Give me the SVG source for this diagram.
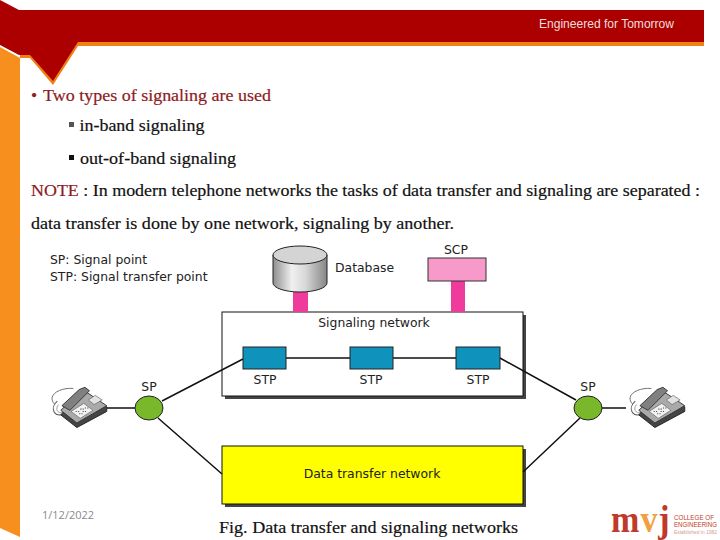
<svg xmlns="http://www.w3.org/2000/svg" width="720" height="540" viewBox="0 0 720 540">
<defs>
<linearGradient id="cyl" x1="0" x2="1" y1="0" y2="0"><stop offset="0" stop-color="#8e8e8e"/><stop offset="0.35" stop-color="#f0f0f0"/><stop offset="0.6" stop-color="#d8d8d8"/><stop offset="1" stop-color="#858585"/></linearGradient>
<g id="phone">
<path d="M-20 -3C-28 -11 -16 -18 -4 -17" fill="none" stroke="#666" stroke-width="0.8"/>
<path d="M-18 -6C-25 0 -21 9 -11 5" fill="#fff" stroke="#555" stroke-width="0.9"/>
<path d="M-17 -3C-20 1 -18 5 -13 4" fill="none" stroke="#888" stroke-width="0.7"/>
<path d="M-15 6L-1 17L25 3L25 -1L4 -15Z" fill="#444" stroke="#222" stroke-width="0.8"/>
<path d="M-15 2L-1 13L25 -2L4 -16Z" fill="#aaa" stroke="#333" stroke-width="0.8"/>
<path d="M-6 3L2 9L13 2L5 -4Z" fill="#f2f2f2" stroke="#555" stroke-width="0.5"/>
<path d="M-2 3H1M1 5H4M4 3H7M2 1H5M6 0H9" stroke="#555" stroke-width="1" stroke-dasharray="1 1"/>
<path d="M9 -7L14 -3L21 -7L15 -11Z" fill="#e2e2e2" stroke="#555" stroke-width="0.5"/>
<path d="M-14 -2L1 -16L6 -18L10 -15L-7 2Z" fill="#808080" stroke="#333" stroke-width="0.8"/>
</g>
</defs>
<style>
.s{font-family:"Liberation Serif",serif;font-size:17.5px;fill:#111;stroke:#111;stroke-width:0.2}
.r{fill:#8e1a22;stroke:#8e1a22}
.d{font-family:"DejaVu Sans",sans-serif;font-size:12.4px;fill:#222}
.c{text-anchor:middle}
.l{stroke:#111;stroke-width:1.5;fill:none}
.stp{fill:#0f93bd;stroke:#222;stroke-width:1}
.pk{fill:#ee3b9c}
.sp{fill:#78b82a;stroke:#222;stroke-width:1}
.t{font-family:"Liberation Sans",sans-serif;fill:#bf3a28}
.m{font-family:"Liberation Serif",serif;font-weight:bold;font-size:37px;fill:#bf3a28}
</style>
<rect width="720" height="540" fill="#fff"/>
<g id="header">
<path d="M0 47L20 58L20 537L0 528Z" fill="#f78f1e"/>
<path d="M20 58H30L53 85L78 46H704V41H78L53 80L30 54H20Z" fill="#f07f14"/>
<path d="M0 0L19 10H704V42H78L53 81L30 55H19L0 45Z" fill="#ac0000"/>
<text x="539" y="28" font-family="'Liberation Sans',sans-serif" font-size="12.5" fill="#f3dede" textLength="135" lengthAdjust="spacingAndGlyphs">Engineered for Tomorrow</text>
</g>
<g id="body-text">
<text class="s r" x="31" y="101">•</text>
<text class="s r" x="43" y="101" textLength="228" lengthAdjust="spacingAndGlyphs">Two types of signaling are used</text>
<rect x="69" y="122" width="5" height="5" fill="#555"/><text class="s" x="79.500" y="131" textLength="125" lengthAdjust="spacingAndGlyphs">in-band signaling</text>
<rect x="69" y="155" width="5" height="5" fill="#111"/><text class="s" x="80" y="164" textLength="156" lengthAdjust="spacingAndGlyphs">out-of-band signaling</text>
<text class="s" x="31" y="196" textLength="669" lengthAdjust="spacingAndGlyphs"><tspan class="r">NOTE</tspan> : In modern telephone networks the tasks of data transfer and signaling are separated :</text>
<text class="s" x="31" y="229" textLength="423" lengthAdjust="spacingAndGlyphs">data transfer is done by one network, signaling by another.</text>
<text class="s" x="219" y="533" textLength="299" lengthAdjust="spacingAndGlyphs">Fig. Data transfer and signaling networks</text>
<text x="42" y="519" font-family="'Open Sans',sans-serif" font-size="11" fill="#8a8a8a">1/12/2022</text>
</g>
<g id="legend">
<text class="d" x="50" y="264">SP: Signal point</text>
<text class="d" x="50" y="281">STP: Signal transfer point</text>
</g>
<g id="signaling-network">
<rect x="225" y="315" width="301" height="84" fill="#444"/>
<rect x="222" y="312" width="301" height="84" fill="#fff" stroke="#111" stroke-width="1"/>
<text class="d c" x="374" y="327">Signaling network</text>
</g>
<g id="data-network">
<rect x="225" y="449" width="301" height="58" fill="#444"/>
<rect x="222" y="446" width="301" height="58" fill="#ffff00" stroke="#111" stroke-width="1"/>
<text class="d c" x="372" y="478">Data transfer network</text>
</g>
<g id="connectors">
<rect class="pk" x="293" y="292" width="15" height="20"/>
<rect class="pk" x="451" y="281" width="14" height="31"/>
<path class="l" d="M286 358H350M393 358H456"/>
<path class="l" d="M162 401L243 359M500 358L576 400M158 418L222 474M580 418L523 472M107 408H135M602 408H626"/>
</g>
<g id="database">
<path d="M273 255V283A27 9 0 0 0 327 283V255Z" fill="url(#cyl)" stroke="#222" stroke-width="1"/>
<ellipse cx="300" cy="255" rx="27" ry="9" fill="#d4d4d4" stroke="#222" stroke-width="1"/>
<text class="d" x="335" y="272">Database</text>
</g>
<g id="scp">
<rect x="428" y="258" width="58" height="23" fill="#f79ac9" stroke="#333" stroke-width="1"/>
<text class="d c" x="456" y="254">SCP</text>
</g>
<g id="stp1"><rect class="stp" x="243" y="347" width="43" height="22"/><text class="d c" x="265" y="384">STP</text></g>
<g id="stp2"><rect class="stp" x="350" y="347" width="43" height="22"/><text class="d c" x="371" y="384">STP</text></g>
<g id="stp3"><rect class="stp" x="456" y="347" width="44" height="22"/><text class="d c" x="478" y="384">STP</text></g>
<g id="sp-left"><ellipse class="sp" cx="149" cy="408" rx="14" ry="12"/><text class="d c" x="149" y="391">SP</text></g>
<g id="sp-right"><ellipse class="sp" cx="588" cy="408" rx="14" ry="12"/><text class="d c" x="588" y="391">SP</text></g>
<g id="phone-left"><use href="#phone" transform="translate(78 408) scale(1.15)"/></g>
<g id="phone-right"><use href="#phone" transform="translate(656 408) scale(1.15)"/></g>
<g id="logo">
<g transform="translate(611 532) scale(.92 1)">
<text class="m" x="0" y="0">m</text>
<text class="m" x="32" y="0" style="fill:#f0a040">v</text>
<text class="m" x="51.500" y="0">j</text>
</g>
<text class="t" x="674" y="520" font-size="6.5" textLength="40" lengthAdjust="spacingAndGlyphs">COLLEGE OF</text>
<text class="t" x="674" y="527" font-size="6.5" textLength="43" lengthAdjust="spacingAndGlyphs">ENGINEERING</text>
<text class="t" x="674" y="534" font-size="5" style="fill:#d89a8e" textLength="43" lengthAdjust="spacingAndGlyphs">Established in 1982</text>
</g>
</svg>
